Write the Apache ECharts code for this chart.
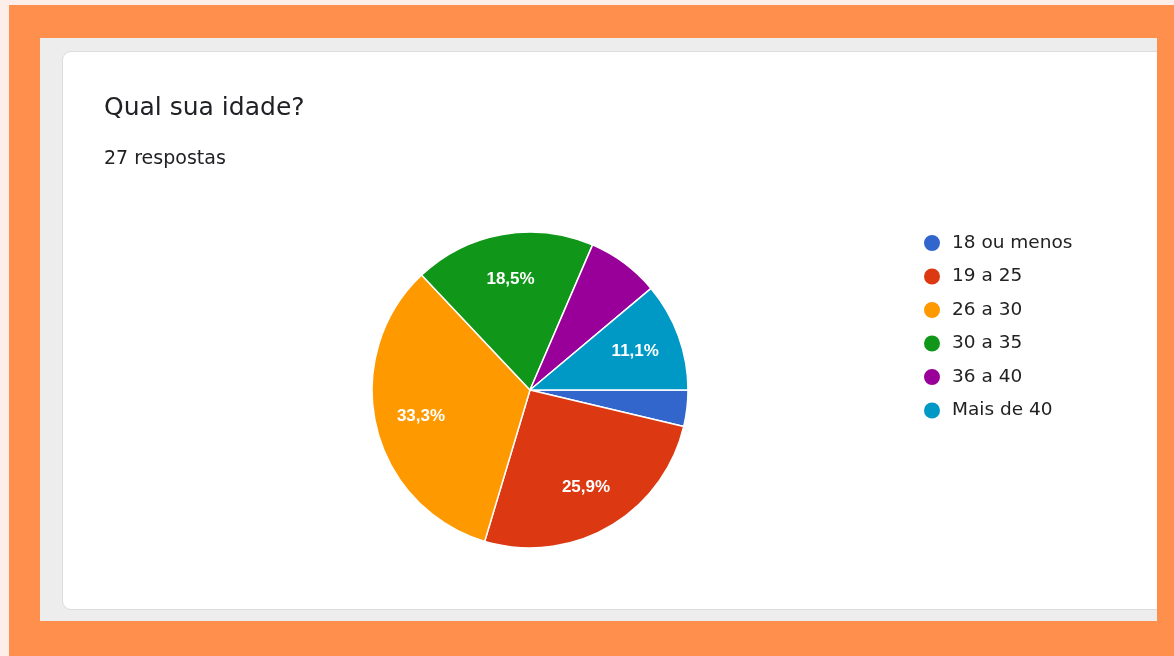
<!DOCTYPE html>
<html>
<head>
<meta charset="utf-8">
<script src="https://cdn.jsdelivr.net/npm/echarts@6/dist/echarts.min.js"></script>
<style>
  html, body { margin: 0; padding: 0; width: 1174px; height: 656px; overflow: hidden; background: #fdeee9; }
  #frame { position: absolute; left: 9px; top: 5px; width: 1165px; height: 651px; background: #ff8f4c; }
  #gray { position: absolute; left: 40px; top: 38px; width: 1117px; height: 583px; background: #eeedee; }
  #card { position: absolute; left: 22px; top: 13px; width: 1120px; height: 557px; background: #fff;
          border: 1px solid #dadce0; border-radius: 9px; }
  #clip { position: absolute; left: 40px; top: 38px; width: 1117px; height: 583px; overflow: hidden; }
  #main { position: absolute; left: 0; top: 0; width: 1174px; height: 656px; }
</style>
</head>
<body>
<div id="frame"></div>
<div id="gray"></div>
<div id="clip"><div id="card"></div></div>
<div id="main"></div>
<script>
var categories = ["18 ou menos", "19 a 25", "26 a 30", "30 a 35", "36 a 40", "Mais de 40"];
var counts = [1, 7, 9, 5, 2, 3];
var colors = ["#3366cc", "#dc3912", "#ff9900", "#109618", "#990099", "#0099c6"];

var total = counts.reduce(function (a, b) { return a + b; }, 0);

var pieData = categories.map(function (name, i) {
  return { name: name, value: counts[i], itemStyle: { color: colors[i] } };
});

function pct(v) {
  return (v / total * 100).toFixed(1).replace(".", ",") + "%";
}

var chart = echarts.init(document.getElementById("main"));

var option = {
  animation: false,
  title: [
    {
      text: "Qual sua idade?",
      left: 104,
      top: 96,
      padding: 0,
      textStyle: { fontFamily: "DejaVu Sans", fontSize: 25, fontWeight: "normal", color: "#202124" }
    },
    {
      text: total + " respostas",
      left: 104,
      top: 150,
      padding: 0,
      textStyle: { fontFamily: "DejaVu Sans", fontSize: 19, fontWeight: "normal", color: "#202124" }
    }
  ],
  legend: {
    orient: "vertical",
    left: 917,
    top: 228,
    icon: "circle",
    itemWidth: 18,
    itemHeight: 18,
    itemGap: 13.5,
    data: categories,
    textStyle: {
      fontFamily: "DejaVu Sans",
      fontSize: 18.5,
      lineHeight: 18,
      color: "#222222",
      padding: [0, 0, 0, 6]
    }
  },
  series: [
    {
      type: "pie",
      center: [530, 390],
      radius: [0, 158],
      startAngle: 0,
      clockwise: true,
      data: pieData,
      label: { show: false },
      labelLine: { show: false },
      itemStyle: { borderColor: "#ffffff", borderWidth: 1.5 },
      emphasis: { disabled: true }
    },
    {
      // only carries the percentage labels, placed at ~0.7 of the radius
      type: "pie",
      center: [530, 390],
      radius: [0, 218],
      startAngle: 0,
      clockwise: true,
      silent: true,
      legendHoverLink: false,
      data: categories.map(function (name, i) {
        return { name: name + " ", value: counts[i] };
      }),
      itemStyle: { color: "rgba(0,0,0,0)" },
      labelLine: { show: false },
      emphasis: { disabled: true },
      label: {
        show: true,
        position: "inside",
        fontFamily: "Liberation Sans",
        fontSize: 17,
        fontWeight: "bold",
        color: "#ffffff",
        formatter: function (p) {
          return p.value / total >= 0.1 ? pct(p.value) : "";
        }
      }
    }
  ]
};

chart.setOption(option);
</script>
</body>
</html>
